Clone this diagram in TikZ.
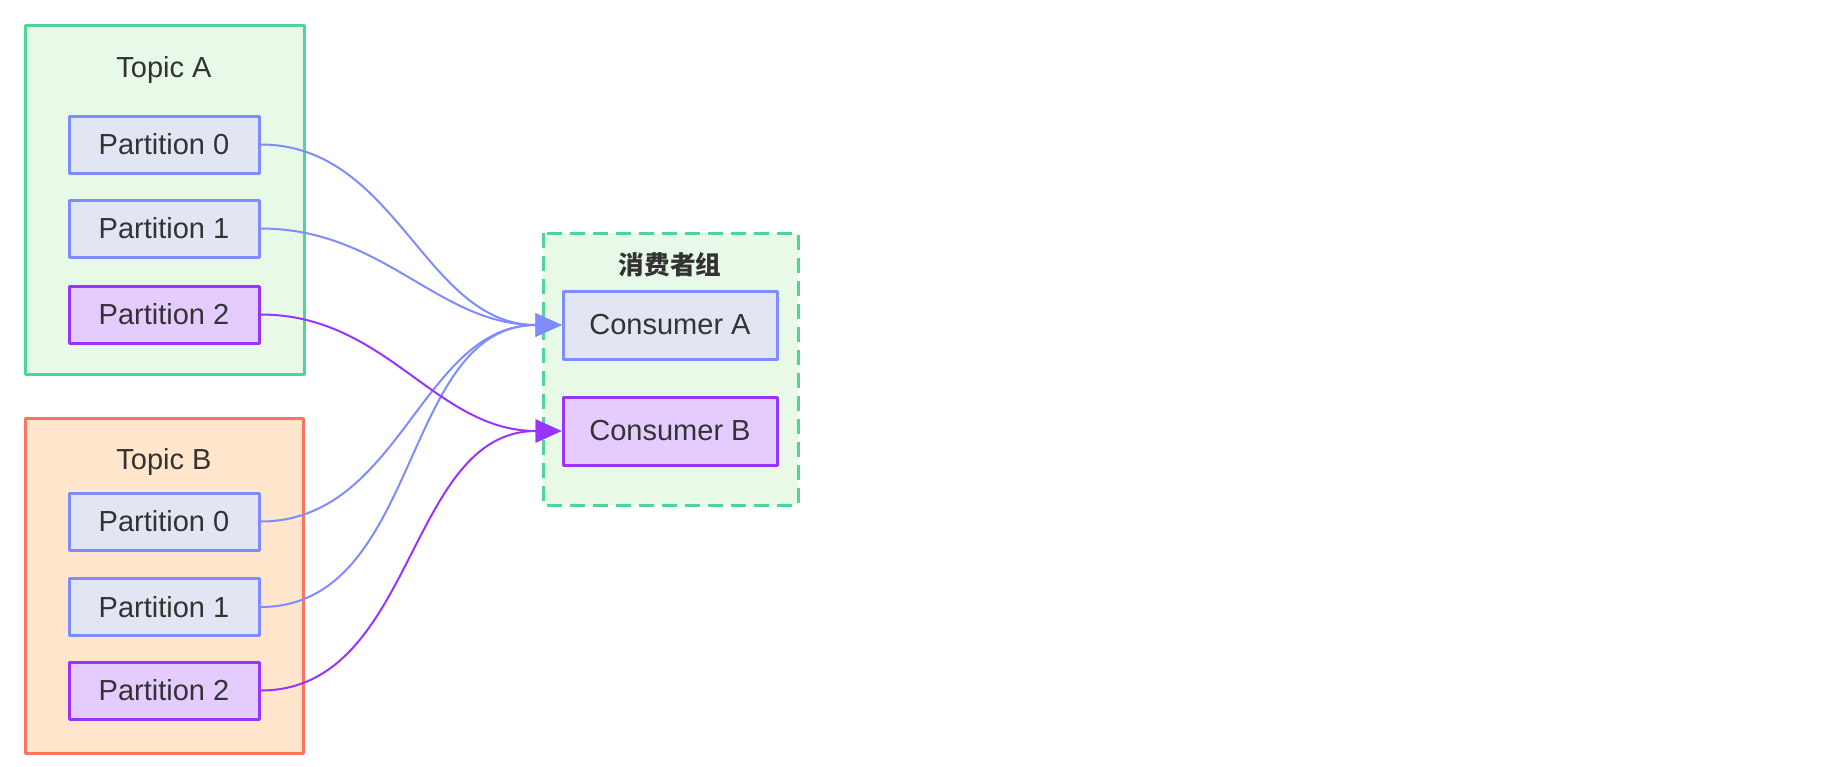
\documentclass[tikz,border=0pt]{standalone}
\usepackage{fontspec}
\setmainfont{Liberation Sans}
\newfontfamily\cjk{Noto Sans CJK SC}
\usetikzlibrary{arrows.meta}
\definecolor{grpline}{HTML}{4ED69A}
\definecolor{grpfill}{HTML}{E8F9E8}
\definecolor{tbline}{HTML}{FF7361}
\definecolor{tbfill}{HTML}{FFE6CC}
\definecolor{blueline}{HTML}{7F8CFF}
\definecolor{bluefill}{HTML}{E2E6F3}
\definecolor{purpline}{HTML}{9933FF}
\definecolor{purpfill}{HTML}{E5CCFF}
\definecolor{txt}{HTML}{333333}
\begin{document}
\begin{tikzpicture}[x=0.5pt,y=-0.5pt,>={Triangle[length=13pt,width=11.5pt]},
    line join=round, every node/.style={text=txt,font=\fontsize{14.5}{17}\selectfont},
    part/.style={draw=blueline,fill=bluefill,line width=1.5pt,minimum width=95pt,minimum height=28.5pt,inner sep=0pt},
    hot/.style={part,draw=purpline,fill=purpfill},
    cons/.style={part,minimum width=107pt,minimum height=34pt},
    flow/.style={->,blueline,line width=1pt},
    hotflow/.style={flow,purpline}]
\useasboundingbox (0,0) rectangle (1846,766);
\draw[grpline,fill=grpfill,line width=1.5pt] (25,25) rectangle (304,374);
\node (titleA) at (164,70) {Topic A};
\node[part] (a0) at (164,144.5) {Partition 0};
\node[part] (a1) at (164,228.5) {Partition 1};
\node[hot] (a2) at (164,314.5) {Partition 2};
\draw[tbline,fill=tbfill,line width=1.5pt] (25,418) rectangle (303,753);
\node (titleB) at (164,462) {Topic B};
\node[part] (b0) at (164,521.5) {Partition 0};
\node[part] (b1) at (164,607) {Partition 1};
\node[hot] (b2) at (164,690.5) {Partition 2};
\draw[grpline,fill=grpfill,line width=1.5pt,dash pattern=on 7.5pt off 4pt] (543,233) rectangle (798,505);
\node[font=\cjk\bfseries\fontsize{12.8}{15}\selectfont] (group) at (670,265) {消费者组};
\node[cons] (ca) at (670,325) {Consumer A};
\node[cons,draw=purpline,fill=purpfill] (cb) at (670,431) {Consumer B};
\draw[flow] (a0.east) to[out=0,in=180] (ca.west);
\draw[flow] (a1.east) to[out=0,in=180] (ca.west);
\draw[flow] (b0.east) to[out=0,in=180] (ca.west);
\draw[flow] (b1.east) to[out=0,in=180] (ca.west);
\draw[hotflow] (a2.east) to[out=0,in=180] (cb.west);
\draw[hotflow] (b2.east) to[out=0,in=180] (cb.west);
\end{tikzpicture}
\end{document}
